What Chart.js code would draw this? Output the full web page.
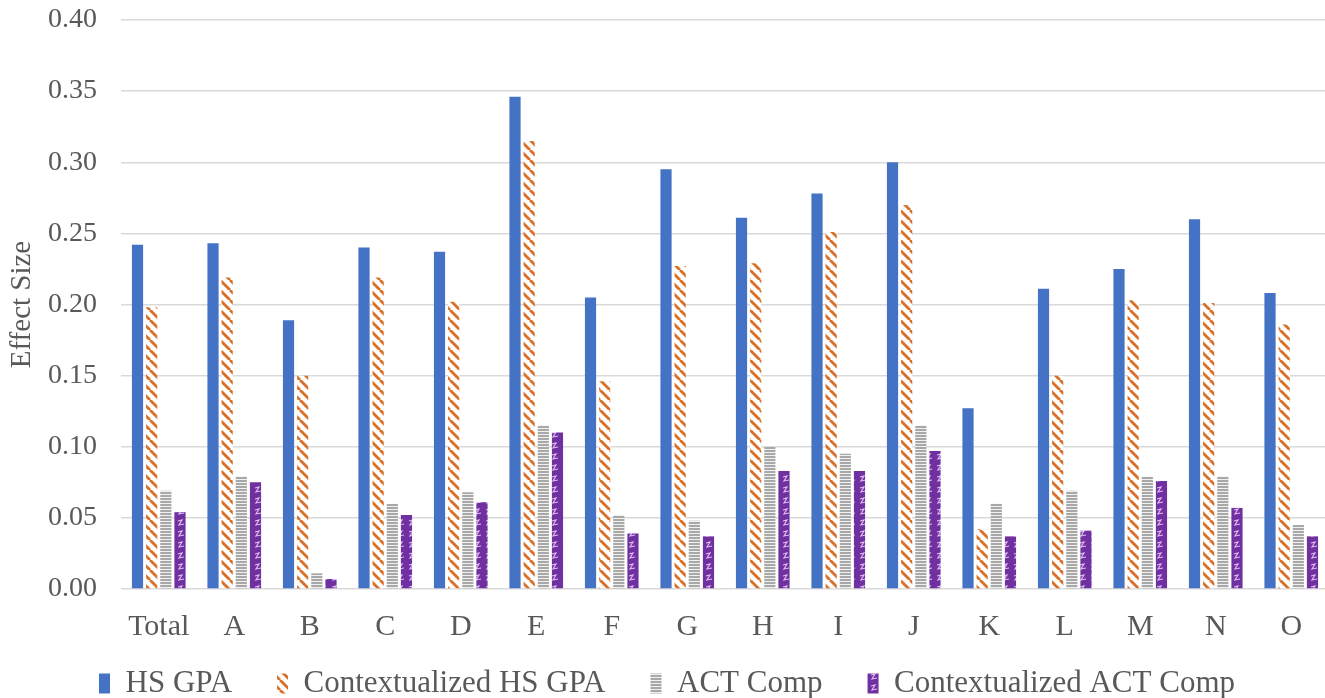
<!DOCTYPE html>
<html>
<head>
<meta charset="utf-8">
<script src="https://cdn.jsdelivr.net/npm/chart.js@4.4.1/dist/chart.umd.min.js"></script>
<style>
  html, body { margin: 0; padding: 0; background: #ffffff; overflow: hidden; }
  #wrap { position: relative; width: 1332px; height: 709px; }
</style>
</head>
<body>
<div id="wrap"><canvas id="chart"></canvas></div>
<script>
// Categories (Total plus institutions A–O)
const categories = ['Total', 'A', 'B', 'C', 'D', 'E', 'F', 'G', 'H', 'I', 'J', 'K', 'L', 'M', 'N', 'O'];

// Effect sizes per predictor
const hsGpa        = [0.242, 0.243, 0.189, 0.240, 0.237, 0.346, 0.205, 0.295, 0.261, 0.278, 0.300, 0.127, 0.211, 0.225, 0.260, 0.208];
const ctxHsGpa     = [0.198, 0.219, 0.150, 0.219, 0.202, 0.315, 0.146, 0.227, 0.229, 0.251, 0.270, 0.042, 0.150, 0.203, 0.201, 0.186];
const actComp      = [0.069, 0.079, 0.011, 0.060, 0.068, 0.115, 0.052, 0.048, 0.100, 0.095, 0.115, 0.060, 0.069, 0.079, 0.079, 0.045];
const ctxActComp   = [0.054, 0.075, 0.007, 0.052, 0.061, 0.110, 0.039, 0.037, 0.083, 0.083, 0.097, 0.037, 0.041, 0.076, 0.057, 0.037];

// Axis ticks
const yTicks = [0.00, 0.05, 0.10, 0.15, 0.20, 0.25, 0.30, 0.35, 0.40];

const seriesNames = ['HS GPA', 'Contextualized HS GPA', 'ACT Comp', 'Contextualized ACT Comp'];

const FONT = '"Liberation Serif", "Times New Roman", serif';
const TEXT = '#595959';

function tile(w, h, paint) {
  const c = document.createElement('canvas');
  c.width = w; c.height = h;
  const g = c.getContext('2d');
  paint(g, w, h);
  return document.createElement('canvas').getContext('2d').createPattern(c, 'repeat');
}

// wide downward diagonal stripes, orange on white
const orangeStripes = tile(10, 10, (g, w, h) => {
  g.fillStyle = '#ffffff';
  g.fillRect(0, 0, w, h);
  g.strokeStyle = '#DA6F28';
  g.lineWidth = 2.8;
  for (const k of [-w, 0, w]) {
    g.beginPath();
    g.moveTo(k, 0);
    g.lineTo(k + w, h);
    g.stroke();
  }
});

// narrow horizontal lines, grey
const greyLines = tile(4, 3, (g, w, h) => {
  g.fillStyle = '#a8a8a8';
  g.fillRect(0, 0, w, h);
  g.fillStyle = '#f0f0f0';
  g.fillRect(0, 2, w, 1);
});

// purple with light zig-zag marks
const purpleZig = tile(11, 11, (g, w, h) => {
  g.fillStyle = '#7030A0';
  g.fillRect(0, 0, w, h);
  g.strokeStyle = '#dcbcf2';
  g.lineWidth = 1.2;
  g.beginPath();
  g.moveTo(2, 4);
  g.lineTo(6, 3);
  g.lineTo(3, 8);
  g.lineTo(8, 7);
  g.stroke();
});

const chartAreaLeft = 121;
const chartAreaTop = 20;

new Chart(document.getElementById('chart'), {
  type: 'bar',
  data: {
    labels: categories,
    datasets: [
      { label: seriesNames[0], data: hsGpa,      backgroundColor: '#4472C4', borderWidth: 0 },
      { label: seriesNames[1], data: ctxHsGpa,   backgroundColor: orangeStripes, borderWidth: 0 },
      { label: seriesNames[2], data: actComp,    backgroundColor: greyLines, borderWidth: 0 },
      { label: seriesNames[3], data: ctxActComp, backgroundColor: purpleZig, borderWidth: 0 }
    ]
  },
  options: {
    responsive: true,
    maintainAspectRatio: false,
    devicePixelRatio: 1,
    animation: false,
    categoryPercentage: 0.75,
    barPercentage: 0.79,
    layout: { padding: { top: 0, left: 5, right: 3, bottom: 0 } },
    plugins: {
      tooltip: { enabled: false },
      legend: {
        position: 'bottom',
        // empty title with negative padding pulls the legend row up towards the axis
        title: { display: true, text: '', font: { size: 1 }, padding: { top: -17.2, bottom: 0 } },
        labels: {
          font: { family: FONT, size: 31 },
          color: TEXT,
          boxWidth: 11,
          boxHeight: 20,
          padding: 45
        }
      }
    },
    scales: {
      x: {
        grid: { display: false },
        border: { display: false },
        ticks: {
          color: TEXT,
          font: { family: FONT, size: 30 },
          padding: 12,
          maxRotation: 0,
          autoSkip: false
        },
        afterFit: (scale) => { scale.height = 50; }
      },
      y: {
        min: 0,
        max: 0.40,
        border: { display: false },
        grid: { color: '#d9d9d9', lineWidth: 1.5, drawTicks: false },
        afterBuildTicks: (scale) => { scale.ticks = yTicks.map(v => ({ value: v })); },
        ticks: {
          color: TEXT,
          font: { family: FONT, size: 28 },
          padding: 24,
          callback: (v) => Number(v).toFixed(2)
        },
        title: {
          display: true,
          text: 'Effect Size',
          color: TEXT,
          font: { family: FONT, size: 29 },
          padding: { top: 0, bottom: 0 }
        },
        afterFit: (scale) => {
          scale.width = chartAreaLeft - 5;
          scale.paddingTop = chartAreaTop;
          scale.paddingBottom = 20;
        }
      }
    }
  }
});
</script>
</body>
</html>
